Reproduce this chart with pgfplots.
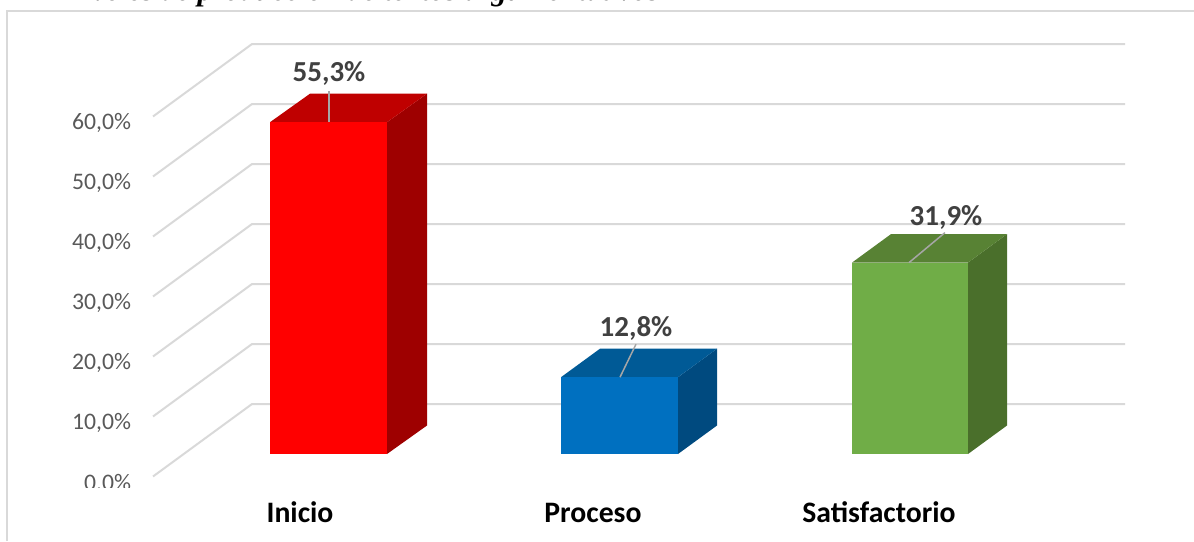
\documentclass[border=0pt]{standalone}
\usepackage{fontspec}
\setmainfont{Carlito}
\newfontfamily\titlefont{Liberation Serif}
\usepackage{pgfplots}
\pgfplotsset{compat=1.18}

\definecolor{gridgray}{HTML}{D9D9D9}
\definecolor{ticktext}{HTML}{595959}
\definecolor{valtext}{HTML}{404040}
\definecolor{leader}{HTML}{A6A6A6}
\definecolor{redfront}{HTML}{FF0000}
\definecolor{redtop}{HTML}{BF0000}
\definecolor{redside}{HTML}{9E0000}
\definecolor{bluefront}{HTML}{0070C0}
\definecolor{bluetop}{HTML}{005A96}
\definecolor{blueside}{HTML}{004A7F}
\definecolor{greenfront}{HTML}{70AD47}
\definecolor{greentop}{HTML}{588234}
\definecolor{greenside}{HTML}{4A6F2B}

\begin{document}
\begin{tikzpicture}
\path[use as bounding box] (0,0) rectangle (1194pt,541pt);
\begin{axis}[
    at={(0,0)}, anchor=south west,
    scale only axis,
    width=1194pt, height=541pt,
    xmin=0, xmax=1194,
    ymin=-14.5, ymax=75.667,
    axis line style={draw=none},
    clip=false,
    major tick length=0pt,
    xtick={300,593,879},
    xticklabels={Inicio,Proceso,Satisfactorio},
    xticklabel style={font=\fontsize{29.7}{32}\selectfont\bfseries, text=black, anchor=base, yshift=19pt},
    ytick={-3.75,6.25,16.25,26.25,36.25,46.25,56.25},
    yticklabels={{0.0\%},{10,0\%},{20,0\%},{30,0\%},{40,0\%},{50,0\%},{60,0\%}},
    yticklabel style={font=\fontsize{23.7}{28}\selectfont, text=ticktext, anchor=east, xshift=134.5pt, yshift=-6.5pt},
]
% gridlines: side wall then back wall
\addplot[gridgray, line width=2pt] coordinates {(153,-3.75) (252,8.33) (1125,8.33)};
\addplot[gridgray, line width=2pt] coordinates {(153,6.25) (252,18.33) (1125,18.33)};
\addplot[gridgray, line width=2pt] coordinates {(153,16.25) (252,28.33) (1125,28.33)};
\addplot[gridgray, line width=2pt] coordinates {(153,26.25) (252,38.33) (1125,38.33)};
\addplot[gridgray, line width=2pt] coordinates {(153,36.25) (252,48.33) (1125,48.33)};
\addplot[gridgray, line width=2pt] coordinates {(153,46.25) (252,58.33) (1125,58.33)};
\addplot[gridgray, line width=2pt] coordinates {(153,56.25) (252,68.33) (1125,68.33)};

% Inicio 55,3
\addplot[fill=redside, draw=none] coordinates {(387,0) (427,4.75) (427,60.05) (387,55.3)} -- cycle;
\addplot[fill=redtop, draw=none] coordinates {(270,55.3) (387,55.3) (427,60.05) (310,60.05)} -- cycle;
\addplot[fill=redfront, draw=none] coordinates {(270,0) (387,0) (387,55.3) (270,55.3)} -- cycle;
% Proceso 12,8
\addplot[fill=blueside, draw=none] coordinates {(678,0) (717,4.75) (717,17.55) (678,12.8)} -- cycle;
\addplot[fill=bluetop, draw=none] coordinates {(561,12.8) (678,12.8) (717,17.55) (600,17.55)} -- cycle;
\addplot[fill=bluefront, draw=none] coordinates {(561,0) (678,0) (678,12.8) (561,12.8)} -- cycle;
% Satisfactorio 31,9
\addplot[fill=greenside, draw=none] coordinates {(968,0) (1007,4.75) (1007,36.65) (968,31.9)} -- cycle;
\addplot[fill=greentop, draw=none] coordinates {(852,31.9) (968,31.9) (1007,36.65) (891,36.65)} -- cycle;
\addplot[fill=greenfront, draw=none] coordinates {(852,0) (968,0) (968,31.9) (852,31.9)} -- cycle;

% leader lines
\addplot[leader, line width=1.5pt] coordinates {(329,55.3) (329,60.5)};
\addplot[leader, line width=1.5pt] coordinates {(620,12.8) (636,18.3)};
\addplot[leader, line width=1.5pt] coordinates {(909,31.9) (945,36.9)};

% value labels
\node[font=\fontsize{29}{32}\selectfont\bfseries, text=valtext] at (axis cs:329,63.35) {55,3\%};
\node[font=\fontsize{29}{32}\selectfont\bfseries, text=valtext] at (axis cs:636,21.0) {12,8\%};
\node[font=\fontsize{29}{32}\selectfont\bfseries, text=valtext] at (axis cs:946,39.35) {31,9\%};
\end{axis}
% chart frame, open on the right and bottom
\draw[gridgray, line width=2pt] (6.5pt,0) -- (6.5pt,530pt) -- (1194pt,530pt);
% the 0.0% label is cut at the bottom in the source
\fill[white] (70pt,53pt) rectangle (140pt,30pt);
% caption above the chart, cut by the top edge
\node[font=\fontsize{30.5}{33}\titlefont\bfseries\itshape, anchor=base west, text=black, inner xsep=0pt] at (62pt,540pt) {Niveles de producción de textos argumentativos};
\end{tikzpicture}
\end{document}
